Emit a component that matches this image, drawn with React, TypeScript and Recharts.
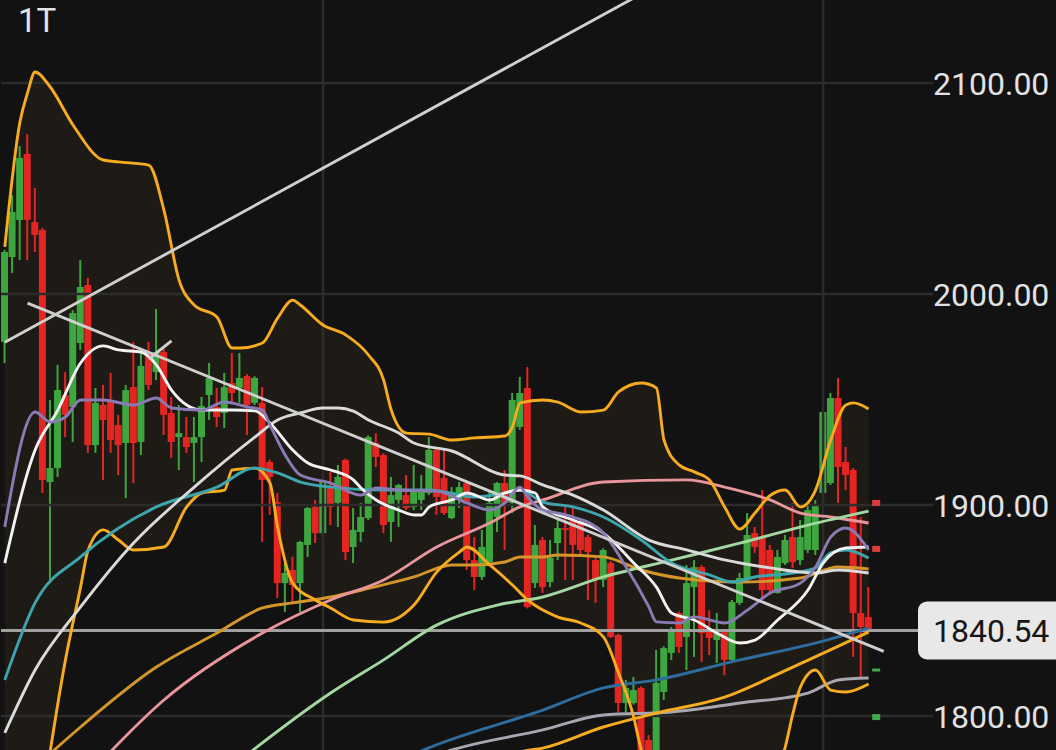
import React from "react";
import {
  Area,
  Bar,
  ComposedChart,
  Line,
  ReferenceDot,
  ReferenceLine,
  XAxis,
  YAxis,
} from "recharts";

// 1-minute candles, oldest first
const opens = [
  1977.3, 2017.5, 2035.1, 2066.4, 2034.1, 2030.3, 1910.9, 1917.5, 1952.1, 1946.5,
  1976.8, 2004.3, 1928.4, 1947.4, 1949.8, 1937.9, 1929.4, 1955.9, 1929.9, 1972.5,
  1963.0, 1972.5, 1943.6, 1932.2, 1932.2, 1929.4, 1932.2, 1952.1, 1946.5, 1943.6,
  1957.8, 1955.5, 1961.1, 1948.4, 1948.4, 1920.4, 1901.4, 1863.0, 1869.2, 1863.0,
  1881.1, 1899.1, 1886.7, 1908.1, 1901.0, 1921.3, 1880.1, 1887.2, 1893.8, 1929.4,
  1923.7, 1892.0, 1902.4, 1904.7, 1899.1, 1902.4, 1905.7, 1926.1, 1912.8, 1893.8,
  1902.4, 1910.4, 1873.9, 1865.9, 1873.0, 1894.3, 1910.4, 1901.0, 1937.0, 1955.5,
  1863.0, 1883.4, 1863.5, 1882.0, 1889.1, 1892.9, 1892.0, 1884.8, 1873.9, 1864.5,
  1872.5, 1838.4, 1806.2, 1806.2, 1813.3, 1788.6, 1774.4, 1811.4, 1829.9, 1848.8,
  1837.5, 1861.1, 1870.6, 1840.8, 1836.0, 1839.8, 1826.6, 1853.6, 1864.5, 1886.7,
  1884.8, 1878.7, 1858.3, 1872.5, 1884.8, 1873.9, 1878.7, 1878.7, 1905.7, 1910.4,
  1950.7, 1920.4, 1916.6, 1848.8, 1846.9,
];
const highs = [
  2020.9, 2046.9, 2070.1, 2075.8, 2050.2, 2031.3, 1949.8, 1966.4, 1963.0, 1992.4,
  2016.1, 2007.6, 1955.5, 1956.9, 1962.6, 1942.7, 1956.9, 1977.3, 1972.5, 1977.3,
  1992.9, 1974.0, 1951.2, 1947.4, 1941.7, 1941.7, 1951.2, 1967.3, 1955.5, 1962.6,
  1972.0, 1972.0, 1962.0, 1961.0, 1955.9, 1921.5, 1905.7, 1872.5, 1875.4, 1883.0,
  1899.0, 1902.4, 1912.5, 1915.7, 1919.0, 1922.0, 1898.6, 1901.0, 1933.0, 1934.1,
  1924.5, 1913.3, 1910.0, 1914.2, 1919.0, 1914.2, 1932.2, 1927.0, 1926.1, 1908.5,
  1910.9, 1911.5, 1884.8, 1888.2, 1907.1, 1910.9, 1916.6, 1953.1, 1960.7, 1965.4,
  1890.5, 1884.8, 1883.4, 1894.3, 1899.1, 1898.6, 1893.0, 1886.0, 1875.0, 1879.5,
  1873.5, 1839.0, 1817.1, 1818.5, 1814.0, 1791.0, 1831.3, 1833.0, 1842.2, 1849.5,
  1871.6, 1873.9, 1871.5, 1850.2, 1848.8, 1840.5, 1855.0, 1867.8, 1896.2, 1889.6,
  1907.1, 1881.1, 1878.7, 1885.8, 1901.0, 1892.9, 1900.0, 1902.4, 1945.0, 1953.1,
  1960.2, 1927.5, 1917.5, 1894.3, 1861.1,
];
const lows = [
  1967.3, 2010.0, 2016.1, 2016.1, 2019.9, 1905.7, 1863.0, 1913.3, 1932.2, 1929.9,
  1973.5, 1924.7, 1924.7, 1911.9, 1924.7, 1914.2, 1903.3, 1910.4, 1923.7, 1954.5,
  1959.2, 1933.2, 1922.3, 1916.6, 1924.7, 1910.9, 1920.4, 1940.3, 1937.0, 1936.5,
  1948.4, 1948.4, 1933.2, 1947.4, 1882.5, 1895.3, 1855.9, 1849.3, 1853.6, 1849.3,
  1875.4, 1882.0, 1884.8, 1890.5, 1889.6, 1873.9, 1872.5, 1882.5, 1892.9, 1918.0,
  1886.7, 1882.5, 1889.6, 1897.6, 1897.6, 1897.6, 1904.7, 1895.3, 1895.3, 1893.3,
  1898.6, 1869.2, 1859.7, 1864.5, 1872.5, 1887.2, 1878.7, 1896.2, 1935.6, 1851.0,
  1860.7, 1858.3, 1861.1, 1873.9, 1864.5, 1864.5, 1876.3, 1855.0, 1853.6, 1861.1,
  1837.0, 1801.9, 1801.9, 1805.5, 1783.0, 1776.8, 1772.0, 1807.6, 1826.6, 1829.9,
  1821.8, 1828.0, 1825.6, 1828.9, 1825.1, 1819.4, 1825.6, 1852.6, 1864.0, 1877.3,
  1856.4, 1857.4, 1858.0, 1871.6, 1870.2, 1871.6, 1877.3, 1876.3, 1904.7, 1909.5,
  1901.0, 1907.1, 1828.0, 1818.5, 1839.3,
];
const closes = [
  2019.9, 2038.9, 2064.5, 2035.1, 2028.0, 1911.9, 1917.5, 1954.5, 1942.7, 1991.0,
  2003.3, 1928.4, 1948.4, 1940.3, 1930.8, 1928.4, 1954.5, 1929.4, 1965.9, 1956.9,
  1972.5, 1942.7, 1929.9, 1934.1, 1927.5, 1932.2, 1946.9, 1960.2, 1941.7, 1955.9,
  1953.1, 1960.2, 1947.4, 1960.2, 1911.9, 1913.3, 1863.0, 1867.8, 1862.1, 1882.5,
  1898.6, 1886.7, 1911.9, 1899.1, 1913.3, 1877.7, 1888.2, 1894.3, 1932.2, 1922.8,
  1890.5, 1904.7, 1909.5, 1898.6, 1907.1, 1906.2, 1926.1, 1903.8, 1896.2, 1906.2,
  1908.5, 1873.9, 1865.9, 1880.1, 1901.0, 1910.4, 1901.0, 1949.8, 1953.1, 1851.7,
  1881.1, 1861.1, 1874.9, 1889.1, 1888.2, 1881.1, 1878.7, 1877.7, 1864.5, 1878.7,
  1837.5, 1806.2, 1813.3, 1812.3, 1783.9, 1779.2, 1815.7, 1832.2, 1840.8, 1832.7,
  1863.0, 1870.6, 1839.3, 1837.0, 1839.3, 1826.6, 1854.0, 1865.4, 1885.8, 1880.1,
  1859.7, 1859.7, 1875.4, 1883.4, 1873.0, 1884.8, 1897.6, 1900.0, 1944.1, 1950.7,
  1918.0, 1914.2, 1848.8, 1842.2, 1840.54,
];

// indicator samples: [candle index, price]
const bollUpper: [number, number][] = [
  [0, 2022.3], [2, 2081.5], [3, 2095.3], [4, 2105.2], [6, 2098.1], [9, 2080.1],
  [13, 2063.5], [15, 2062.6], [19, 2061.1], [21, 2039.8], [23, 2006.6], [25, 1994.8],
  [28, 1989.1], [30, 1974.4], [31, 1974.4], [34, 1976.8], [36, 1988.6], [38, 1997.1],
  [39, 1994.8], [42, 1985.3], [45, 1980.6], [48, 1971.1], [50, 1959.2], [51, 1945.0],
  [53, 1934.1], [56, 1933.6], [59, 1930.8], [62, 1931.8], [66, 1932.7], [67, 1937.0],
  [68, 1948.4], [71, 1949.8], [73, 1948.8], [76, 1944.1], [79, 1945.0], [81, 1953.6],
  [84, 1957.8], [86, 1955.5], [87, 1930.8], [89, 1919.0], [91, 1915.7], [93, 1911.9],
  [95, 1899.1], [97, 1888.6], [99, 1896.2], [101, 1904.5], [103, 1907.1], [105, 1899.1],
  [107, 1907.1], [109, 1930.8], [111, 1947.4], [112, 1948.4], [114, 1945.5],
];
const bollLower: [number, number][] = [
  [5, 1760.2], [8, 1826.5], [10, 1861.1], [11, 1878.7], [13, 1888.2], [15, 1883.4],
  [17, 1878.7], [21, 1880.1], [24, 1899.1], [26, 1905.7], [29, 1907.1], [30, 1916.6],
  [33, 1917.5], [35, 1910.4], [36, 1889.6], [38, 1863.0], [41, 1855.0], [43, 1851.2],
  [46, 1845.5], [50, 1844.5], [54, 1852.6], [57, 1868.2], [60, 1877.7], [61, 1880.1],
  [64, 1871.6], [67, 1862.1], [69, 1855.0], [73, 1846.9], [76, 1844.1], [79, 1837.5],
  [81, 1820.4], [83, 1799.5], [84, 1783.9], [88, 1760.0], [93, 1745.0], [98, 1750.0],
  [101, 1768.0], [103, 1785.3], [104, 1801.0], [105, 1813.7], [107, 1821.8],
  [109, 1812.3], [111, 1811.4], [114, 1815.2],
];
const maPurple: [number, number][] = [
  [0, 1889.6], [4, 1944.1], [6, 1939.3], [8, 1941.7], [10, 1949.8], [13, 1949.8],
  [17, 1947.4], [20, 1950.7], [22, 1946.0], [26, 1945.0], [29, 1948.8], [32, 1946.5],
  [34, 1945.0], [35, 1937.9], [37, 1923.7], [39, 1914.2], [43, 1910.4], [47, 1904.7],
  [49, 1908.1], [52, 1907.1], [57, 1906.6], [61, 1901.0], [64, 1897.6], [66, 1901.0],
  [68, 1908.5], [69, 1903.8], [71, 1897.6], [73, 1896.2], [75, 1894.3], [79, 1886.7],
  [82, 1870.6], [85, 1851.7], [86, 1844.6], [89, 1844.1], [91, 1847.0], [95, 1844.1],
  [98, 1850.2], [101, 1858.3], [105, 1863.0], [107, 1870.6], [109, 1884.8],
  [111, 1889.1], [114, 1878.7],
];
const maWhiteFast: [number, number][] = [
  [0, 1872.5], [4, 1926.1], [7, 1945.0], [10, 1967.3], [13, 1975.4], [15, 1973.5],
  [18, 1972.5], [20, 1966.4], [22, 1954.5], [24, 1947.4], [26, 1945.0], [30, 1945.0],
  [33, 1944.6], [35, 1938.9], [38, 1926.1], [40, 1919.9], [43, 1916.6], [46, 1911.9],
  [47, 1908.1], [49, 1902.4], [52, 1897.6], [54, 1895.3], [55, 1895.3], [56, 1899.1],
  [59, 1902.4], [61, 1905.7], [64, 1902.4], [66, 1905.7], [68, 1907.1], [70, 1905.7],
  [71, 1899.1], [75, 1892.9], [79, 1886.7], [83, 1872.5], [86, 1861.1], [88, 1848.8],
  [91, 1845.5], [94, 1839.3], [97, 1834.6], [99, 1836.0], [102, 1845.5], [106, 1859.7],
  [108, 1872.5], [111, 1879.6], [114, 1880.1],
];
const maWhiteSlow: [number, number][] = [
  [0, 1792.0], [4, 1821.8], [10, 1851.7], [17, 1882.0], [25, 1908.5], [33, 1932.2],
  [36, 1940.3], [39, 1943.6], [42, 1946.0], [44, 1946.0], [46, 1944.5], [48, 1940.3],
  [52, 1934.1], [54, 1929.4], [59, 1925.6], [66, 1914.2], [68, 1913.8], [71, 1909.5],
  [75, 1904.7], [79, 1897.6], [85, 1883.4], [90, 1878.7], [95, 1874.0], [101, 1870.2],
  [107, 1867.8], [110, 1869.2], [114, 1867.8],
];
const maTeal: [number, number][] = [
  [0, 1817.1], [4, 1853.6], [10, 1875.4], [20, 1899.1], [28, 1908.5], [33, 1917.5],
  [36, 1915.2], [39, 1910.9], [43, 1908.5], [50, 1907.1], [56, 1907.1], [62, 1903.8],
  [66, 1905.7], [68, 1907.1], [71, 1901.4], [75, 1899.1], [79, 1894.3], [84, 1883.4],
  [88, 1872.5], [93, 1866.9], [96, 1863.5], [99, 1865.9], [104, 1867.8], [107, 1870.2],
  [109, 1877.3], [111, 1878.7], [114, 1874.9],
];
const maGold: [number, number][] = [
  [5, 1779.0], [10, 1794.8], [20, 1823.2], [28, 1839.3], [34, 1851.2], [38, 1853.6],
  [43, 1856.4], [48, 1860.5], [54, 1865.9], [59, 1871.6], [62, 1871.6], [66, 1873.0],
  [68, 1875.4], [71, 1875.4], [73, 1876.3], [79, 1875.4], [84, 1869.2], [89, 1865.4],
  [97, 1863.5], [105, 1865.4], [110, 1870.6], [114, 1869.7],
];
const maPink: [number, number][] = [
  [11, 1772.0], [21, 1807.6], [34, 1839.3], [43, 1855.0], [50, 1864.5], [57, 1880.1],
  [64, 1891.5], [68, 1899.1], [71, 1902.4], [79, 1910.9], [90, 1911.9], [95, 1908.5],
  [101, 1902.4], [105, 1896.2], [109, 1894.3], [114, 1891.5],
];
const maMint: [number, number][] = [
  [31, 1779.0], [43, 1810.9], [50, 1826.6], [57, 1843.1], [65, 1852.6], [71, 1856.4],
  [79, 1865.9], [88, 1873.9], [97, 1881.9], [106, 1890.5], [114, 1897.1],
];
const maBlue: [number, number][] = [
  [50, 1775.0], [55, 1783.5], [71, 1802.8], [79, 1813.3], [86, 1817.1], [97, 1826.6],
  [106, 1833.7], [114, 1841.7],
];
const maOrange: [number, number][] = [
  [64, 1770.0], [68, 1782.9], [71, 1784.8], [79, 1794.8], [86, 1801.4], [95, 1809.0],
  [104, 1823.2], [114, 1839.8],
];
const maGrey: [number, number][] = [
  [55, 1779.0], [59, 1783.9], [71, 1793.4], [79, 1800.5], [88, 1801.9], [97, 1806.2],
  [106, 1810.9], [110, 1817.1], [114, 1818.0],
];

// hand-drawn trend lines, two anchors each
const trendRising: [number, number][] = [[0, 1977.1], [88, 2150.1]];
const trendFalling: [number, number][] = [[3, 1995.7], [116, 1830.6]];
const trendShort: [number, number][] = [[19, 1969.2], [22, 1977.8]];

const priceTicks = [1800, 1900, 2000, 2100];
const timeTicks = [42, 108];
const buyMarks = [1821.8, 1799.5];
const sellMarks = [1901.0, 1879.2];
const lastClose = closes[closes.length - 1];

const SLOTS = 123;
const BG = "#121212";
const BAND_FILL = "#1e1b16";
const GRID = "#2c2c2c";
const UP = "#3da63f";
const DOWN = "#e52521";

const bands = [
  { key: "bbUp", points: bollUpper },
  { key: "bbLow", points: bollLower },
];

const lineSeries = [
  { key: "gold", points: maGold, color: "#d4962a", curve: "monotone" },
  { key: "pink", points: maPink, color: "#e8959c", curve: "monotone" },
  { key: "mint", points: maMint, color: "#a3d9a0", curve: "monotone" },
  { key: "grey", points: maGrey, color: "#a8a6b0", curve: "monotone" },
  { key: "blue", points: maBlue, color: "#2e6c9e", curve: "monotone" },
  { key: "orange", points: maOrange, color: "#f7ab1f", curve: "monotone" },
  { key: "bbUpLine", points: bollUpper, color: "#f7ab1f", curve: "monotone" },
  { key: "bbLowLine", points: bollLower, color: "#f7ab1f", curve: "monotone" },
  { key: "teal", points: maTeal, color: "#3da5ad", curve: "monotone" },
  { key: "slow", points: maWhiteSlow, color: "#dadada", curve: "monotone" },
  { key: "fast", points: maWhiteFast, color: "#f2f2f2", curve: "monotone" },
  { key: "purple", points: maPurple, color: "#8a7bb5", curve: "monotone" },
  { key: "tr1", points: trendRising, color: "#cfcfcf", curve: "linear" },
  { key: "tr2", points: trendFalling, color: "#cfcfcf", curve: "linear" },
  { key: "tr3", points: trendShort, color: "#cfcfcf", curve: "linear" },
];

const rows = Array.from({ length: SLOTS }, (_, i) => {
  const row: Record<string, any> = { i };
  if (i < opens.length) {
    row.o = opens[i];
    row.h = highs[i];
    row.l = lows[i];
    row.c = closes[i];
    row.hl = [lows[i], highs[i]];
  }
  for (const s of [...bands, ...lineSeries]) {
    const hit = s.points.find((p) => p[0] === i);
    if (hit) row[s.key] = hit[1];
  }
  return row;
});

const axisTicks = [...priceTicks, lastClose].sort((a, b) => a - b);

function Candle(props: any) {
  const { x, y, width, height, payload } = props;
  if (!payload || payload.o == null) return null;
  const { o, h, l, c } = payload;
  const top = Math.min(y, y + height);
  const span = Math.abs(height);
  const perUnit = span / (h - l);
  const yOpen = top + (h - o) * perUnit;
  const yClose = top + (h - c) * perUnit;
  const color = c >= o ? UP : DOWN;
  const mid = x + width / 2;
  return (
    <g>
      <line x1={mid} x2={mid} y1={top} y2={top + span} stroke={color} strokeWidth={2} />
      <rect
        x={x}
        y={Math.min(yOpen, yClose)}
        width={width}
        height={Math.max(Math.abs(yOpen - yClose), 1.5)}
        fill={color}
      />
    </g>
  );
}

function PriceTick(props: any) {
  const { x, y, payload } = props;
  const v = payload.value as number;
  if (v === lastClose) {
    return (
      <g>
        <rect x={x - 15} y={y - 29} width={160} height={58} rx={9} fill="#e8e8e8" />
        <text x={x} y={y} dy={11.5} fill="#161616" fontSize={32} fontFamily="Roboto">
          {v.toFixed(2)}
        </text>
      </g>
    );
  }
  return (
    <text x={x} y={y} dy={11.5} fill="#e2e2e2" fontSize={32} fontFamily="Roboto">
      {v.toFixed(2)}
    </text>
  );
}

function Marker(color: string, h: number) {
  return (p: any) => (
    <rect x={p.cx - 4} y={p.cy - h / 2} width={8} height={h} fill={color} />
  );
}

export default function App() {
  return (
    <div style={{ position: "absolute", left: 0, top: 0, width: 1056, height: 750, background: BG }}>
      <ComposedChart
        width={1056}
        height={750}
        data={rows}
        margin={{ top: 0, right: 0, bottom: 0, left: 1 }}
      >
        <XAxis dataKey="i" type="category" hide />
        <YAxis
          orientation="right"
          width={123}
          domain={[1783.9, 2139.34]}
          allowDataOverflow
          ticks={axisTicks}
          interval={0}
          axisLine={false}
          tickLine={false}
          tickSize={0}
          tickMargin={0}
          tick={PriceTick}
        />
        <Area
          dataKey="bbUp"
          type="monotone"
          connectNulls
          stroke="none"
          fill={BAND_FILL}
          fillOpacity={1}
          baseValue="dataMin"
          isAnimationActive={false}
        />
        <Area
          dataKey="bbLow"
          type="monotone"
          connectNulls
          stroke="none"
          fill={BG}
          fillOpacity={1}
          baseValue="dataMin"
          isAnimationActive={false}
        />
        {priceTicks.map((p) => (
          <ReferenceLine key={p} y={p} stroke={GRID} strokeWidth={2.5} />
        ))}
        {timeTicks.map((t) => (
          <ReferenceLine key={t} x={t} stroke={GRID} strokeWidth={2.5} />
        ))}
        <ReferenceLine y={lastClose} stroke="#a0a0a0" strokeWidth={2.8} />
        <Bar dataKey="hl" barSize={7} shape={Candle} isAnimationActive={false} />
        {lineSeries.map((s) => (
          <Line
            key={s.key}
            dataKey={s.key}
            type={s.curve as any}
            stroke={s.color}
            strokeWidth={2.9}
            dot={false}
            activeDot={false}
            connectNulls
            isAnimationActive={false}
          />
        ))}
        {sellMarks.map((p) => (
          <ReferenceDot key={p} x={115} y={p} shape={Marker("#e03a3a", 6)} />
        ))}
        {buyMarks.map((p, k) => (
          <ReferenceDot key={p} x={115} y={p} shape={Marker("#3fa84a", k === 0 ? 3 : 6)} />
        ))}
      </ComposedChart>
      <div
        style={{
          position: "absolute",
          left: 18,
          top: 1,
          fontSize: 33,
          fontFamily: "Roboto",
          color: "#e4e4e4",
        }}
      >
        1T
      </div>
    </div>
  );
}
